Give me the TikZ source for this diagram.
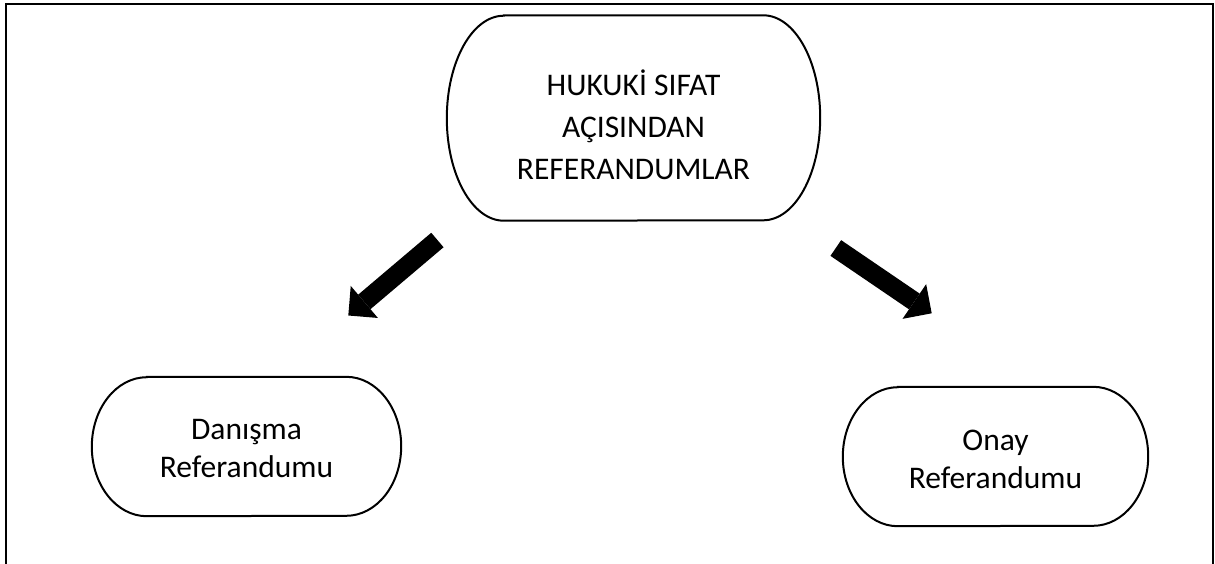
\documentclass[tikz,border=0pt]{standalone}
\usepackage{fontspec}
\setmainfont{Carlito}
\usetikzlibrary{arrows.meta}
\tikzset{
  outline/.style={draw=black, line width=2pt},
  boxtext/.style={align=center, inner sep=0pt, font=\fontsize{31.5}{38}\selectfont},
  toptext/.style={align=center, inner sep=0pt, font=\fontsize{31.5}{42}\selectfont},
  holder/.style={draw=none, inner sep=0pt},
  bigarrow/.style={line width=19pt, -{Triangle[length=21pt,width=42pt,line width=0pt]}},
  frame/.style={draw=black, line width=2.5pt}
}
\begin{document}
\begin{tikzpicture}[x=1pt,y=-1pt]
\useasboundingbox (0,0) rectangle (1215,563);
% outer frame (bottom edge outside the picture)
\draw[frame] (6,570) -- (6,4) -- (1213,4) -- (1213,570);

% top node
\node[holder, minimum width=373pt, minimum height=205pt] (top) at (633.5,118) {};
\draw[outline] ([xshift=57pt]top.north west) -- ([xshift=-57pt]top.north east)
  arc[start angle=90, end angle=-90, x radius=57pt, y radius=102.5pt]
  -- ([xshift=57pt]top.south west)
  arc[start angle=270, end angle=90, x radius=57pt, y radius=102.5pt] -- cycle;
\node[toptext] (toplabel) at (633.5,125) {HUKUKİ SIFAT\\AÇISINDAN\\REFERANDUMLAR};

% left node
\node[holder, minimum width=309pt, minimum height=139pt] (left) at (246.5,446.5) {};
\draw[outline] ([xshift=55pt]left.north west) -- ([xshift=-55pt]left.north east)
  arc[start angle=90, end angle=-90, x radius=55pt, y radius=69.5pt]
  -- ([xshift=55pt]left.south west)
  arc[start angle=270, end angle=90, x radius=55pt, y radius=69.5pt] -- cycle;
\node[boxtext] (leftlabel) at (246.5,449) {Danışma\\Referandumu};

% right node
\node[holder, minimum width=305pt, minimum height=139pt] (right) at (995.5,456.5) {};
\draw[outline] ([xshift=55pt]right.north west) -- ([xshift=-55pt]right.north east)
  arc[start angle=90, end angle=-90, x radius=55pt, y radius=69.5pt]
  -- ([xshift=55pt]right.south west)
  arc[start angle=270, end angle=90, x radius=55pt, y radius=69.5pt] -- cycle;
\node[boxtext] (rightlabel) at (995.5,459) {Onay\\Referandumu};

% block arrows
\coordinate (la1) at (437.4,240);
\coordinate (la2) at (348.3,315.5);
\coordinate (ra1) at (835.8,248);
\coordinate (ra2) at (931.7,313.3);
\draw[bigarrow] (la1) -- (la2);
\draw[bigarrow] (ra1) -- (ra2);
\end{tikzpicture}
\end{document}
